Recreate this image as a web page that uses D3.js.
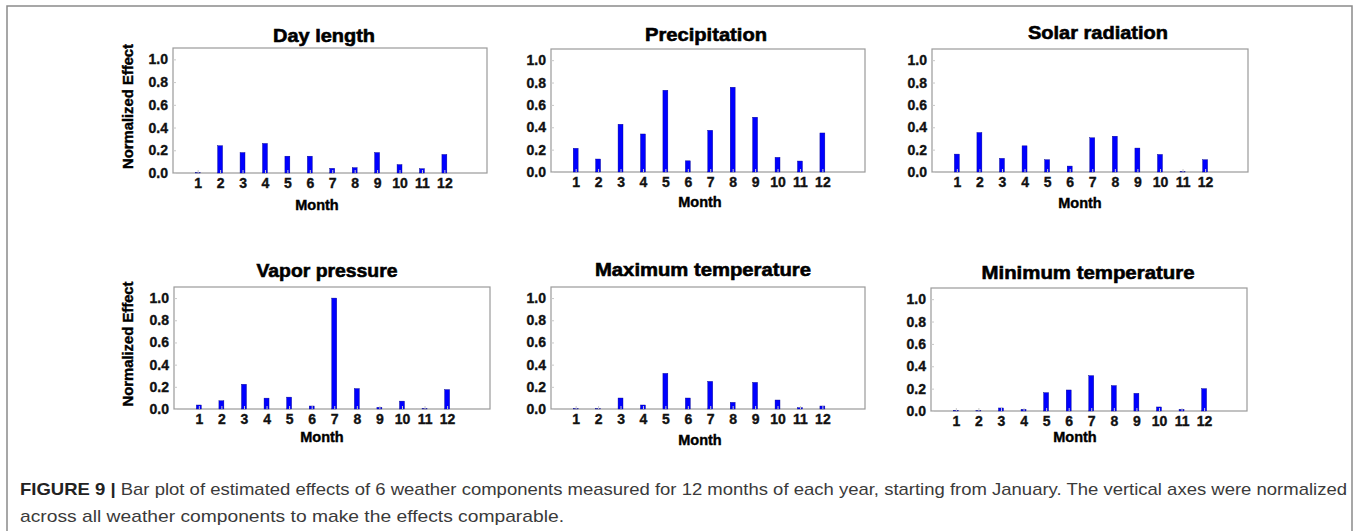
<!DOCTYPE html>
<html>
<head>
<meta charset="utf-8">
<script src="https://cdn.jsdelivr.net/npm/d3@7"></script>
<style>
  body { margin: 0; background: #fff; }
  svg { display: block; }
</style>
</head>
<body>
<svg id="fig" width="1360" height="531"></svg>
<script>
// months and y ticks
const months = [1, 2, 3, 4, 5, 6, 7, 8, 9, 10, 11, 12];
const yTicks = [0, 0.2, 0.4, 0.6, 0.8, 1.0];

// normalized effects
const dayLength     = [0.002, 0.24, 0.18, 0.26, 0.148, 0.148, 0.041, 0.047, 0.18, 0.074, 0.038, 0.163];
const precipitation = [0.212, 0.116, 0.427, 0.34, 0.731, 0.10, 0.373, 0.758, 0.49, 0.131, 0.098, 0.349];
const solarRad      = [0.16, 0.353, 0.122, 0.234, 0.11, 0.053, 0.306, 0.32, 0.214, 0.157, 0.003, 0.11];
const vaporPressure = [0.036, 0.074, 0.223, 0.098, 0.107, 0.027, 1.0, 0.184, 0.015, 0.071, 0.003, 0.175];
const maxTemp       = [0.002, 0.002, 0.099, 0.036, 0.321, 0.099, 0.249, 0.06, 0.24, 0.081, 0.012, 0.027];
const minTemp       = [0.005, 0.003, 0.027, 0.015, 0.164, 0.188, 0.316, 0.227, 0.158, 0.036, 0.015, 0.2];

const titles = ["Day length", "Precipitation", "Solar radiation",
                "Vapor pressure", "Maximum temperature", "Minimum temperature"];
const series = [dayLength, precipitation, solarRad, vaporPressure, maxTemp, minTemp];

// panel layout (pixels)
const panels = [
  {l: 173, r: 487, t: 48, b: 173, tx: 324, ty: 42, tw: 102, lx: 317, ly: 210, ticky: 188, ylab: true},
  {l: 551, r: 865, t: 49, b: 172, tx: 706, ty: 41, tw: 122, lx: 700, ly: 207, ticky: 187, ylab: false},
  {l: 932, r: 1248, t: 49, b: 172, tx: 1098, ty: 39, tw: 140, lx: 1080, ly: 208, ticky: 187, ylab: false},
  {l: 174, r: 490, t: 287, b: 409, tx: 327, ty: 277, tw: 141, lx: 322, ly: 442, ticky: 424, ylab: true},
  {l: 551, r: 865, t: 287, b: 409, tx: 703, ty: 276, tw: 216, lx: 700, ly: 445, ticky: 424, ylab: false},
  {l: 931, r: 1247, t: 288, b: 411, tx: 1088, ty: 279, tw: 213, lx: 1075, ly: 442, ticky: 426, ylab: false}
];

const svg = d3.select("#fig");
const boldFont = "'Liberation Sans', Arial, sans-serif";

// outer frame
svg.append("rect")
  .attr("x", 7).attr("y", 6).attr("width", 1345).attr("height", 540)
  .attr("fill", "none").attr("stroke", "#8a8a8a").attr("stroke-width", 1.5);

panels.forEach((p, i) => {
  const data = series[i];
  const x = d3.scaleLinear().domain([-0.1, 13.9]).range([p.l, p.r]);
  const y = d3.scaleLinear().domain([0, 1.1]).range([p.b, p.t]);
  const g = svg.append("g");

  // plot box
  g.append("rect")
    .attr("x", p.l).attr("y", p.t).attr("width", p.r - p.l).attr("height", p.b - p.t)
    .attr("fill", "#fff").attr("stroke", "#9a9a9a").attr("stroke-width", 1.2);

  // bars
  const bw = x(0.22) - x(0);
  g.selectAll("rect.bar")
    .data(months.map((m, k) => ({m: m, v: data[k]})))
    .enter().append("rect")
    .attr("class", "bar")
    .attr("x", d => x(d.m) - bw / 2)
    .attr("y", d => y(d.v))
    .attr("width", bw)
    .attr("height", d => p.b - y(d.v))
    .attr("fill", "#0000ff")
    .attr("stroke", "#00008a").attr("stroke-width", 0.4);

  // y axis
  const ya = g.append("g")
    .attr("transform", `translate(${p.l},0)`)
    .call(d3.axisLeft(y).tickValues(yTicks).tickFormat(d3.format(".1f")).tickSizeInner(-3).tickSizeOuter(0).tickPadding(5));
  ya.select(".domain").remove();
  ya.selectAll("line").attr("stroke", "#c8c8c8");
  ya.selectAll("text")
    .attr("font-family", boldFont).attr("font-weight", "bold").attr("font-size", 14)
    .attr("fill", "#111").attr("stroke", "#111").attr("stroke-width", 0.35);

  // x axis tick labels
  const xa = g.append("g")
    .attr("transform", `translate(0,${p.b})`)
    .call(d3.axisBottom(x).tickValues(months).tickFormat(d3.format("d")).tickSizeInner(-3).tickSizeOuter(0).tickPadding(5));
  xa.select(".domain").remove();
  xa.selectAll("line").attr("stroke", "#c8c8c8");
  xa.selectAll("text")
    .attr("y", null).attr("dy", null)
    .attr("transform", `translate(0,${p.ticky - p.b})`)
    .attr("font-family", boldFont).attr("font-weight", "bold").attr("font-size", 14)
    .attr("fill", "#111").attr("stroke", "#111").attr("stroke-width", 0.35);

  // title
  g.append("text")
    .attr("x", p.tx).attr("y", p.ty)
    .attr("text-anchor", "middle")
    .attr("textLength", p.tw).attr("lengthAdjust", "spacingAndGlyphs")
    .attr("font-family", boldFont).attr("font-weight", "bold").attr("font-size", 19)
    .attr("fill", "#000").attr("stroke", "#000").attr("stroke-width", 0.6)
    .text(titles[i]);

  // x label
  g.append("text")
    .attr("x", p.lx).attr("y", p.ly)
    .attr("text-anchor", "middle")
    .attr("font-family", boldFont).attr("font-weight", "bold").attr("font-size", 14.5)
    .attr("fill", "#000").attr("stroke", "#000").attr("stroke-width", 0.4)
    .text("Month");

  if (p.ylab) {
    g.append("text")
      .attr("transform", `translate(133,${(p.t + p.b) / 2 - 4}) rotate(-90)`)
      .attr("text-anchor", "middle")
      .attr("textLength", 125).attr("lengthAdjust", "spacingAndGlyphs")
      .attr("font-family", boldFont).attr("font-weight", "bold").attr("font-size", 14)
      .attr("fill", "#000").attr("stroke", "#000").attr("stroke-width", 0.4)
      .text("Normalized Effect");
  }
});

// caption
const cap = svg.append("g").attr("font-family", "'Liberation Sans', Arial, sans-serif").attr("font-size", 17).attr("fill", "#3a3a3a");
const line1 = cap.append("text").attr("x", 20).attr("y", 495)
  .attr("textLength", 1327).attr("lengthAdjust", "spacingAndGlyphs");
line1.append("tspan").attr("font-weight", "bold").attr("fill", "#222").text("FIGURE 9 | ");
line1.append("tspan").text("Bar plot of estimated effects of 6 weather components measured for 12 months of each year, starting from January. The vertical axes were normalized");
cap.append("text").attr("x", 20).attr("y", 522)
  .attr("textLength", 544).attr("lengthAdjust", "spacingAndGlyphs")
  .text("across all weather components to make the effects comparable.");
</script>
</body>
</html>
